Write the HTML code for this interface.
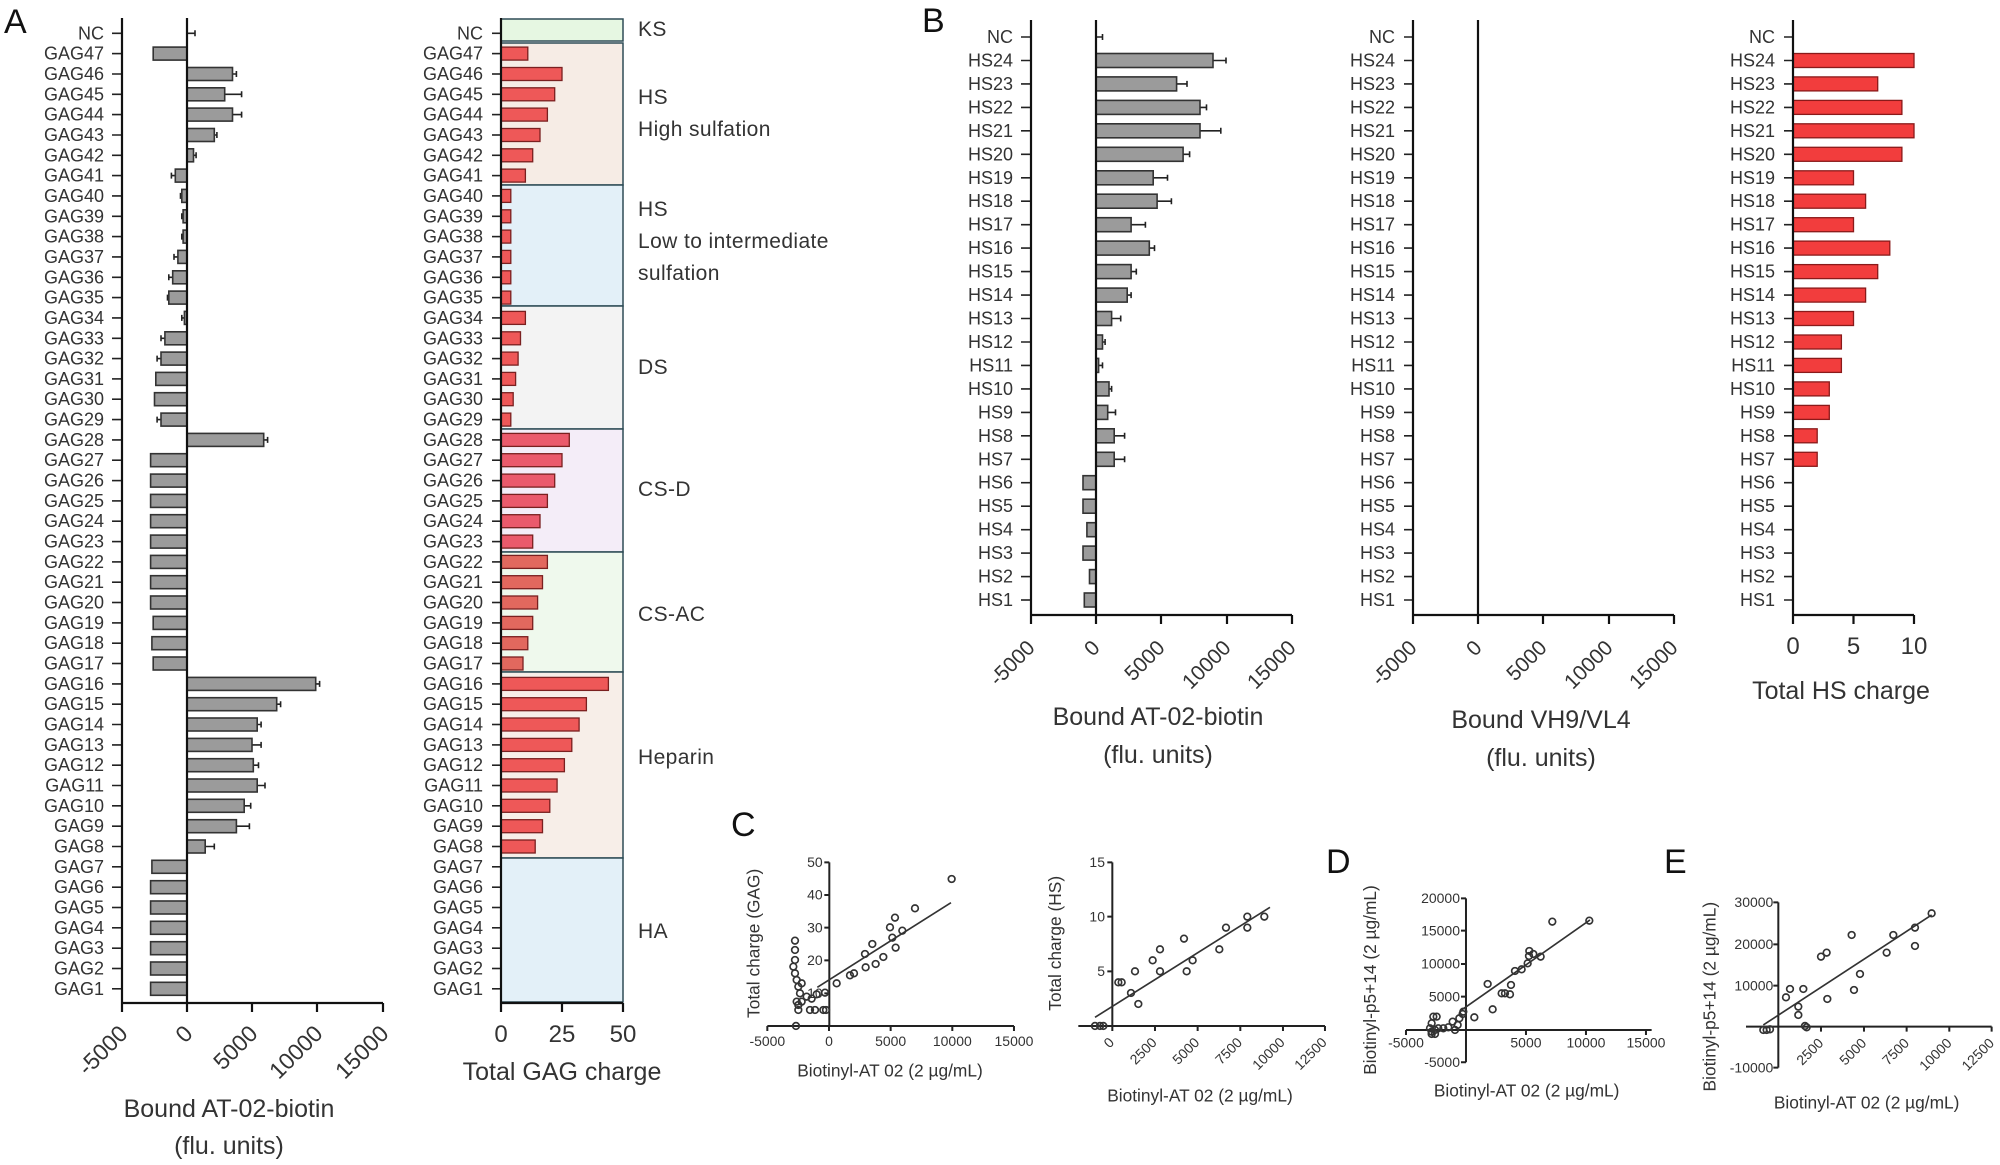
<!DOCTYPE html>
<html><head><meta charset="utf-8"><style>
body{margin:0;background:#fff}
svg{display:block;font-family:"Liberation Sans",Arial,sans-serif}
.rl{font-size:18px;fill:#333;text-anchor:end}
.gb{fill:#9b9b9b;stroke:#333;stroke-width:1.6}
.rb{fill:#ee5858;stroke:#7a2020;stroke-width:1.3}
.rb2{fill:#f23d3d;stroke:#8a1a1a;stroke-width:1.3}
.k{stroke:#222;stroke-width:1.6;fill:none}
.ax{stroke:#111;stroke-width:2.2;fill:none}
.tl{font-size:23px;fill:#333;text-anchor:end}
.tlb{font-size:21px;fill:#333;text-anchor:end}
.tt{font-size:25px;fill:#333;text-anchor:middle}
.cat{font-size:21px;fill:#333;letter-spacing:0.4px}
.let{font-size:34px;fill:#111}
.sc circle{fill:none;stroke:#333;stroke-width:5}
.sc .a{stroke:#222;stroke-width:6;fill:none}
.sc .l{stroke:#333;stroke-width:5;fill:none}
.sc text{font-size:42px;fill:#333}
.sc .ti{font-size:52px;fill:#333;text-anchor:middle}
</style></head><body>
<svg width="2000" height="1165" viewBox="0 0 2000 1165" xmlns="http://www.w3.org/2000/svg">
<text class="let" x="4" y="33">A</text>
<text class="let" x="922" y="32">B</text>
<text class="let" x="731" y="836">C</text>
<text class="let" x="1326" y="873">D</text>
<text class="let" x="1664" y="873">E</text>

<!-- A1 -->
<g>
<g transform="translate(187,33.3)"><text class="rl" x="-83" y="6">NC</text><path class="k" d="M-75 0H-65M0 0h8m0 -3v6"/></g>
<g transform="translate(187,53.6)"><text class="rl" x="-83" y="6">GAG47</text><path class="k" d="M-75 0H-65"/><rect class="gb" x="-33.8" y="-6.5" width="33.8" height="13"/></g>
<g transform="translate(187,74)"><text class="rl" x="-83" y="6">GAG46</text><path class="k" d="M-75 0H-65M45.5 0h3.9m0 -3v6"/><rect class="gb" x="0" y="-6.5" width="45.5" height="13"/></g>
<g transform="translate(187,94.3)"><text class="rl" x="-83" y="6">GAG45</text><path class="k" d="M-75 0H-65M37.7 0h16.9m0 -3v6"/><rect class="gb" x="0" y="-6.5" width="37.7" height="13"/></g>
<g transform="translate(187,114.6)"><text class="rl" x="-83" y="6">GAG44</text><path class="k" d="M-75 0H-65M45.5 0h9.1m0 -3v6"/><rect class="gb" x="0" y="-6.5" width="45.5" height="13"/></g>
<g transform="translate(187,135)"><text class="rl" x="-83" y="6">GAG43</text><path class="k" d="M-75 0H-65M27.3 0h2.6m0 -3v6"/><rect class="gb" x="0" y="-6.5" width="27.3" height="13"/></g>
<g transform="translate(187,155.3)"><text class="rl" x="-83" y="6">GAG42</text><path class="k" d="M-75 0H-65M6.5 0h2.6m0 -3v6"/><rect class="gb" x="0" y="-6.5" width="6.5" height="13"/></g>
<g transform="translate(187,175.6)"><text class="rl" x="-83" y="6">GAG41</text><path class="k" d="M-75 0H-65M-11.7 0h-3.9m0 -3v6"/><rect class="gb" x="-11.7" y="-6.5" width="11.7" height="13"/></g>
<g transform="translate(187,195.9)"><text class="rl" x="-83" y="6">GAG40</text><path class="k" d="M-75 0H-65M-5.2 0h-1.3m0 -3v6"/><rect class="gb" x="-5.2" y="-6.5" width="5.2" height="13"/></g>
<g transform="translate(187,216.3)"><text class="rl" x="-83" y="6">GAG39</text><path class="k" d="M-75 0H-65M-3.9 0h-1.3m0 -3v6"/><rect class="gb" x="-3.9" y="-6.5" width="3.9" height="13"/></g>
<g transform="translate(187,236.6)"><text class="rl" x="-83" y="6">GAG38</text><path class="k" d="M-75 0H-65M-3.9 0h-1.3m0 -3v6"/><rect class="gb" x="-3.9" y="-6.5" width="3.9" height="13"/></g>
<g transform="translate(187,256.9)"><text class="rl" x="-83" y="6">GAG37</text><path class="k" d="M-75 0H-65M-9.1 0h-3.9m0 -3v6"/><rect class="gb" x="-9.1" y="-6.5" width="9.1" height="13"/></g>
<g transform="translate(187,277.3)"><text class="rl" x="-83" y="6">GAG36</text><path class="k" d="M-75 0H-65M-14.3 0h-3.9m0 -3v6"/><rect class="gb" x="-14.3" y="-6.5" width="14.3" height="13"/></g>
<g transform="translate(187,297.6)"><text class="rl" x="-83" y="6">GAG35</text><path class="k" d="M-75 0H-65M-18.2 0h-1.3m0 -3v6"/><rect class="gb" x="-18.2" y="-6.5" width="18.2" height="13"/></g>
<g transform="translate(187,317.9)"><text class="rl" x="-83" y="6">GAG34</text><path class="k" d="M-75 0H-65M-2.6 0h-2.6m0 -3v6"/><rect class="gb" x="-2.6" y="-6.5" width="2.6" height="13"/></g>
<g transform="translate(187,338.3)"><text class="rl" x="-83" y="6">GAG33</text><path class="k" d="M-75 0H-65M-22.1 0h-3.9m0 -3v6"/><rect class="gb" x="-22.1" y="-6.5" width="22.1" height="13"/></g>
<g transform="translate(187,358.6)"><text class="rl" x="-83" y="6">GAG32</text><path class="k" d="M-75 0H-65M-26 0h-3.9m0 -3v6"/><rect class="gb" x="-26" y="-6.5" width="26" height="13"/></g>
<g transform="translate(187,378.9)"><text class="rl" x="-83" y="6">GAG31</text><path class="k" d="M-75 0H-65"/><rect class="gb" x="-31.2" y="-6.5" width="31.2" height="13"/></g>
<g transform="translate(187,399.2)"><text class="rl" x="-83" y="6">GAG30</text><path class="k" d="M-75 0H-65"/><rect class="gb" x="-32.5" y="-6.5" width="32.5" height="13"/></g>
<g transform="translate(187,419.6)"><text class="rl" x="-83" y="6">GAG29</text><path class="k" d="M-75 0H-65M-26 0h-3.9m0 -3v6"/><rect class="gb" x="-26" y="-6.5" width="26" height="13"/></g>
<g transform="translate(187,439.9)"><text class="rl" x="-83" y="6">GAG28</text><path class="k" d="M-75 0H-65M76.7 0h3.9m0 -3v6"/><rect class="gb" x="0" y="-6.5" width="76.7" height="13"/></g>
<g transform="translate(187,460.2)"><text class="rl" x="-83" y="6">GAG27</text><path class="k" d="M-75 0H-65"/><rect class="gb" x="-36.4" y="-6.5" width="36.4" height="13"/></g>
<g transform="translate(187,480.6)"><text class="rl" x="-83" y="6">GAG26</text><path class="k" d="M-75 0H-65"/><rect class="gb" x="-36.4" y="-6.5" width="36.4" height="13"/></g>
<g transform="translate(187,500.9)"><text class="rl" x="-83" y="6">GAG25</text><path class="k" d="M-75 0H-65"/><rect class="gb" x="-36.4" y="-6.5" width="36.4" height="13"/></g>
<g transform="translate(187,521.2)"><text class="rl" x="-83" y="6">GAG24</text><path class="k" d="M-75 0H-65"/><rect class="gb" x="-36.4" y="-6.5" width="36.4" height="13"/></g>
<g transform="translate(187,541.6)"><text class="rl" x="-83" y="6">GAG23</text><path class="k" d="M-75 0H-65"/><rect class="gb" x="-36.4" y="-6.5" width="36.4" height="13"/></g>
<g transform="translate(187,561.9)"><text class="rl" x="-83" y="6">GAG22</text><path class="k" d="M-75 0H-65"/><rect class="gb" x="-36.4" y="-6.5" width="36.4" height="13"/></g>
<g transform="translate(187,582.2)"><text class="rl" x="-83" y="6">GAG21</text><path class="k" d="M-75 0H-65"/><rect class="gb" x="-36.4" y="-6.5" width="36.4" height="13"/></g>
<g transform="translate(187,602.5)"><text class="rl" x="-83" y="6">GAG20</text><path class="k" d="M-75 0H-65"/><rect class="gb" x="-36.4" y="-6.5" width="36.4" height="13"/></g>
<g transform="translate(187,622.9)"><text class="rl" x="-83" y="6">GAG19</text><path class="k" d="M-75 0H-65"/><rect class="gb" x="-33.8" y="-6.5" width="33.8" height="13"/></g>
<g transform="translate(187,643.2)"><text class="rl" x="-83" y="6">GAG18</text><path class="k" d="M-75 0H-65"/><rect class="gb" x="-35.1" y="-6.5" width="35.1" height="13"/></g>
<g transform="translate(187,663.5)"><text class="rl" x="-83" y="6">GAG17</text><path class="k" d="M-75 0H-65"/><rect class="gb" x="-33.8" y="-6.5" width="33.8" height="13"/></g>
<g transform="translate(187,683.9)"><text class="rl" x="-83" y="6">GAG16</text><path class="k" d="M-75 0H-65M128.7 0h3.9m0 -3v6"/><rect class="gb" x="0" y="-6.5" width="128.7" height="13"/></g>
<g transform="translate(187,704.2)"><text class="rl" x="-83" y="6">GAG15</text><path class="k" d="M-75 0H-65M89.7 0h3.9m0 -3v6"/><rect class="gb" x="0" y="-6.5" width="89.7" height="13"/></g>
<g transform="translate(187,724.5)"><text class="rl" x="-83" y="6">GAG14</text><path class="k" d="M-75 0H-65M70.2 0h3.9m0 -3v6"/><rect class="gb" x="0" y="-6.5" width="70.2" height="13"/></g>
<g transform="translate(187,744.9)"><text class="rl" x="-83" y="6">GAG13</text><path class="k" d="M-75 0H-65M65 0h9.1m0 -3v6"/><rect class="gb" x="0" y="-6.5" width="65" height="13"/></g>
<g transform="translate(187,765.2)"><text class="rl" x="-83" y="6">GAG12</text><path class="k" d="M-75 0H-65M66.3 0h5.2m0 -3v6"/><rect class="gb" x="0" y="-6.5" width="66.3" height="13"/></g>
<g transform="translate(187,785.5)"><text class="rl" x="-83" y="6">GAG11</text><path class="k" d="M-75 0H-65M70.2 0h7.8m0 -3v6"/><rect class="gb" x="0" y="-6.5" width="70.2" height="13"/></g>
<g transform="translate(187,805.8)"><text class="rl" x="-83" y="6">GAG10</text><path class="k" d="M-75 0H-65M57.2 0h6.5m0 -3v6"/><rect class="gb" x="0" y="-6.5" width="57.2" height="13"/></g>
<g transform="translate(187,826.2)"><text class="rl" x="-83" y="6">GAG9</text><path class="k" d="M-75 0H-65M49.4 0h13m0 -3v6"/><rect class="gb" x="0" y="-6.5" width="49.4" height="13"/></g>
<g transform="translate(187,846.5)"><text class="rl" x="-83" y="6">GAG8</text><path class="k" d="M-75 0H-65M18.2 0h9.1m0 -3v6"/><rect class="gb" x="0" y="-6.5" width="18.2" height="13"/></g>
<g transform="translate(187,866.8)"><text class="rl" x="-83" y="6">GAG7</text><path class="k" d="M-75 0H-65"/><rect class="gb" x="-35.1" y="-6.5" width="35.1" height="13"/></g>
<g transform="translate(187,887.2)"><text class="rl" x="-83" y="6">GAG6</text><path class="k" d="M-75 0H-65"/><rect class="gb" x="-36.4" y="-6.5" width="36.4" height="13"/></g>
<g transform="translate(187,907.5)"><text class="rl" x="-83" y="6">GAG5</text><path class="k" d="M-75 0H-65"/><rect class="gb" x="-36.4" y="-6.5" width="36.4" height="13"/></g>
<g transform="translate(187,927.8)"><text class="rl" x="-83" y="6">GAG4</text><path class="k" d="M-75 0H-65"/><rect class="gb" x="-36.4" y="-6.5" width="36.4" height="13"/></g>
<g transform="translate(187,948.2)"><text class="rl" x="-83" y="6">GAG3</text><path class="k" d="M-75 0H-65"/><rect class="gb" x="-36.4" y="-6.5" width="36.4" height="13"/></g>
<g transform="translate(187,968.5)"><text class="rl" x="-83" y="6">GAG2</text><path class="k" d="M-75 0H-65"/><rect class="gb" x="-36.4" y="-6.5" width="36.4" height="13"/></g>
<g transform="translate(187,988.8)"><text class="rl" x="-83" y="6">GAG1</text><path class="k" d="M-75 0H-65"/><rect class="gb" x="-36.4" y="-6.5" width="36.4" height="13"/></g>
<path class="ax" d="M122 18V1003H383M187 18V1003M122 1003v9M187 1003v9M252 1003v9M317 1003v9M383 1003v9"/>
<text class="tl" transform="translate(129,1035) rotate(-45)">-5000</text>
<text class="tl" transform="translate(194,1035) rotate(-45)">0</text>
<text class="tl" transform="translate(259,1035) rotate(-45)">5000</text>
<text class="tl" transform="translate(324,1035) rotate(-45)">10000</text>
<text class="tl" transform="translate(390,1035) rotate(-45)">15000</text>
<text class="tt" x="229" y="1117">Bound AT-02-biotin</text>
<text class="tt" x="229" y="1154">(flu. units)</text>
</g>

<!-- A2 -->
<g>
<rect x="501" y="19" width="122" height="22" fill="#e6f7e2" stroke="#2e4c56" stroke-width="1.5"/>
<rect x="501" y="43" width="122" height="142" fill="#f6ece5" stroke="#2e4c56" stroke-width="1.5"/>
<rect x="501" y="185" width="122" height="121" fill="#e3f0f8" stroke="#2e4c56" stroke-width="1.5"/>
<rect x="501" y="306" width="122" height="123" fill="#f3f3f3" stroke="#2e4c56" stroke-width="1.5"/>
<rect x="501" y="429" width="122" height="123" fill="#f4edf8" stroke="#2e4c56" stroke-width="1.5"/>
<rect x="501" y="552" width="122" height="120" fill="#eff9ed" stroke="#2e4c56" stroke-width="1.5"/>
<rect x="501" y="672" width="122" height="186" fill="#f7eee8" stroke="#2e4c56" stroke-width="1.5"/>
<rect x="501" y="858" width="122" height="144" fill="#e3f0f8" stroke="#2e4c56" stroke-width="1.5"/>
<text class="cat" x="638" y="36">KS</text>
<text class="cat" x="638" y="104">HS</text>
<text class="cat" x="638" y="136">High sulfation</text>
<text class="cat" x="638" y="216">HS</text>
<text class="cat" x="638" y="248">Low to intermediate</text>
<text class="cat" x="638" y="280">sulfation</text>
<text class="cat" x="638" y="374">DS</text>
<text class="cat" x="638" y="496">CS-D</text>
<text class="cat" x="638" y="621">CS-AC</text>
<text class="cat" x="638" y="764">Heparin</text>
<text class="cat" x="638" y="938">HA</text>
<g transform="translate(501,33.3)"><text class="rl" x="-18" y="6">NC</text><path class="k" d="M-9 0H0"/></g>
<g transform="translate(501,53.6)"><text class="rl" x="-18" y="6">GAG47</text><path class="k" d="M-9 0H0"/><rect class="rb" x="0" y="-6.5" width="26.8" height="13"/></g>
<g transform="translate(501,74)"><text class="rl" x="-18" y="6">GAG46</text><path class="k" d="M-9 0H0"/><rect class="rb" x="0" y="-6.5" width="61" height="13"/></g>
<g transform="translate(501,94.3)"><text class="rl" x="-18" y="6">GAG45</text><path class="k" d="M-9 0H0"/><rect class="rb" x="0" y="-6.5" width="53.7" height="13"/></g>
<g transform="translate(501,114.6)"><text class="rl" x="-18" y="6">GAG44</text><path class="k" d="M-9 0H0"/><rect class="rb" x="0" y="-6.5" width="46.4" height="13"/></g>
<g transform="translate(501,135)"><text class="rl" x="-18" y="6">GAG43</text><path class="k" d="M-9 0H0"/><rect class="rb" x="0" y="-6.5" width="39" height="13"/></g>
<g transform="translate(501,155.3)"><text class="rl" x="-18" y="6">GAG42</text><path class="k" d="M-9 0H0"/><rect class="rb" x="0" y="-6.5" width="31.7" height="13"/></g>
<g transform="translate(501,175.6)"><text class="rl" x="-18" y="6">GAG41</text><path class="k" d="M-9 0H0"/><rect class="rb" x="0" y="-6.5" width="24.4" height="13"/></g>
<g transform="translate(501,195.9)"><text class="rl" x="-18" y="6">GAG40</text><path class="k" d="M-9 0H0"/><rect class="rb" x="0" y="-6.5" width="9.8" height="13"/></g>
<g transform="translate(501,216.3)"><text class="rl" x="-18" y="6">GAG39</text><path class="k" d="M-9 0H0"/><rect class="rb" x="0" y="-6.5" width="9.8" height="13"/></g>
<g transform="translate(501,236.6)"><text class="rl" x="-18" y="6">GAG38</text><path class="k" d="M-9 0H0"/><rect class="rb" x="0" y="-6.5" width="9.8" height="13"/></g>
<g transform="translate(501,256.9)"><text class="rl" x="-18" y="6">GAG37</text><path class="k" d="M-9 0H0"/><rect class="rb" x="0" y="-6.5" width="9.8" height="13"/></g>
<g transform="translate(501,277.3)"><text class="rl" x="-18" y="6">GAG36</text><path class="k" d="M-9 0H0"/><rect class="rb" x="0" y="-6.5" width="9.8" height="13"/></g>
<g transform="translate(501,297.6)"><text class="rl" x="-18" y="6">GAG35</text><path class="k" d="M-9 0H0"/><rect class="rb" x="0" y="-6.5" width="9.8" height="13"/></g>
<g transform="translate(501,317.9)"><text class="rl" x="-18" y="6">GAG34</text><path class="k" d="M-9 0H0"/><rect class="rb" x="0" y="-6.5" width="24.4" height="13"/></g>
<g transform="translate(501,338.3)"><text class="rl" x="-18" y="6">GAG33</text><path class="k" d="M-9 0H0"/><rect class="rb" x="0" y="-6.5" width="19.5" height="13"/></g>
<g transform="translate(501,358.6)"><text class="rl" x="-18" y="6">GAG32</text><path class="k" d="M-9 0H0"/><rect class="rb" x="0" y="-6.5" width="17.1" height="13"/></g>
<g transform="translate(501,378.9)"><text class="rl" x="-18" y="6">GAG31</text><path class="k" d="M-9 0H0"/><rect class="rb" x="0" y="-6.5" width="14.6" height="13"/></g>
<g transform="translate(501,399.2)"><text class="rl" x="-18" y="6">GAG30</text><path class="k" d="M-9 0H0"/><rect class="rb" x="0" y="-6.5" width="12.2" height="13"/></g>
<g transform="translate(501,419.6)"><text class="rl" x="-18" y="6">GAG29</text><path class="k" d="M-9 0H0"/><rect class="rb" x="0" y="-6.5" width="9.8" height="13"/></g>
<g transform="translate(501,439.9)"><text class="rl" x="-18" y="6">GAG28</text><path class="k" d="M-9 0H0"/><rect class="rb" x="0" y="-6.5" width="68.3" height="13" style="fill:#ea5a6c"/></g>
<g transform="translate(501,460.2)"><text class="rl" x="-18" y="6">GAG27</text><path class="k" d="M-9 0H0"/><rect class="rb" x="0" y="-6.5" width="61" height="13" style="fill:#ea5a6c"/></g>
<g transform="translate(501,480.6)"><text class="rl" x="-18" y="6">GAG26</text><path class="k" d="M-9 0H0"/><rect class="rb" x="0" y="-6.5" width="53.7" height="13" style="fill:#ea5a6c"/></g>
<g transform="translate(501,500.9)"><text class="rl" x="-18" y="6">GAG25</text><path class="k" d="M-9 0H0"/><rect class="rb" x="0" y="-6.5" width="46.4" height="13" style="fill:#ea5a6c"/></g>
<g transform="translate(501,521.2)"><text class="rl" x="-18" y="6">GAG24</text><path class="k" d="M-9 0H0"/><rect class="rb" x="0" y="-6.5" width="39" height="13" style="fill:#ea5a6c"/></g>
<g transform="translate(501,541.6)"><text class="rl" x="-18" y="6">GAG23</text><path class="k" d="M-9 0H0"/><rect class="rb" x="0" y="-6.5" width="31.7" height="13" style="fill:#ea5a6c"/></g>
<g transform="translate(501,561.9)"><text class="rl" x="-18" y="6">GAG22</text><path class="k" d="M-9 0H0"/><rect class="rb" x="0" y="-6.5" width="46.4" height="13" style="fill:#e2685e"/></g>
<g transform="translate(501,582.2)"><text class="rl" x="-18" y="6">GAG21</text><path class="k" d="M-9 0H0"/><rect class="rb" x="0" y="-6.5" width="41.5" height="13" style="fill:#e2685e"/></g>
<g transform="translate(501,602.5)"><text class="rl" x="-18" y="6">GAG20</text><path class="k" d="M-9 0H0"/><rect class="rb" x="0" y="-6.5" width="36.6" height="13" style="fill:#e2685e"/></g>
<g transform="translate(501,622.9)"><text class="rl" x="-18" y="6">GAG19</text><path class="k" d="M-9 0H0"/><rect class="rb" x="0" y="-6.5" width="31.7" height="13" style="fill:#e2685e"/></g>
<g transform="translate(501,643.2)"><text class="rl" x="-18" y="6">GAG18</text><path class="k" d="M-9 0H0"/><rect class="rb" x="0" y="-6.5" width="26.8" height="13" style="fill:#e2685e"/></g>
<g transform="translate(501,663.5)"><text class="rl" x="-18" y="6">GAG17</text><path class="k" d="M-9 0H0"/><rect class="rb" x="0" y="-6.5" width="22" height="13" style="fill:#e2685e"/></g>
<g transform="translate(501,683.9)"><text class="rl" x="-18" y="6">GAG16</text><path class="k" d="M-9 0H0"/><rect class="rb" x="0" y="-6.5" width="107.4" height="13"/></g>
<g transform="translate(501,704.2)"><text class="rl" x="-18" y="6">GAG15</text><path class="k" d="M-9 0H0"/><rect class="rb" x="0" y="-6.5" width="85.4" height="13"/></g>
<g transform="translate(501,724.5)"><text class="rl" x="-18" y="6">GAG14</text><path class="k" d="M-9 0H0"/><rect class="rb" x="0" y="-6.5" width="78.1" height="13"/></g>
<g transform="translate(501,744.9)"><text class="rl" x="-18" y="6">GAG13</text><path class="k" d="M-9 0H0"/><rect class="rb" x="0" y="-6.5" width="70.8" height="13"/></g>
<g transform="translate(501,765.2)"><text class="rl" x="-18" y="6">GAG12</text><path class="k" d="M-9 0H0"/><rect class="rb" x="0" y="-6.5" width="63.4" height="13"/></g>
<g transform="translate(501,785.5)"><text class="rl" x="-18" y="6">GAG11</text><path class="k" d="M-9 0H0"/><rect class="rb" x="0" y="-6.5" width="56.1" height="13"/></g>
<g transform="translate(501,805.8)"><text class="rl" x="-18" y="6">GAG10</text><path class="k" d="M-9 0H0"/><rect class="rb" x="0" y="-6.5" width="48.8" height="13"/></g>
<g transform="translate(501,826.2)"><text class="rl" x="-18" y="6">GAG9</text><path class="k" d="M-9 0H0"/><rect class="rb" x="0" y="-6.5" width="41.5" height="13"/></g>
<g transform="translate(501,846.5)"><text class="rl" x="-18" y="6">GAG8</text><path class="k" d="M-9 0H0"/><rect class="rb" x="0" y="-6.5" width="34.2" height="13"/></g>
<g transform="translate(501,866.8)"><text class="rl" x="-18" y="6">GAG7</text><path class="k" d="M-9 0H0"/></g>
<g transform="translate(501,887.2)"><text class="rl" x="-18" y="6">GAG6</text><path class="k" d="M-9 0H0"/></g>
<g transform="translate(501,907.5)"><text class="rl" x="-18" y="6">GAG5</text><path class="k" d="M-9 0H0"/></g>
<g transform="translate(501,927.8)"><text class="rl" x="-18" y="6">GAG4</text><path class="k" d="M-9 0H0"/></g>
<g transform="translate(501,948.2)"><text class="rl" x="-18" y="6">GAG3</text><path class="k" d="M-9 0H0"/></g>
<g transform="translate(501,968.5)"><text class="rl" x="-18" y="6">GAG2</text><path class="k" d="M-9 0H0"/></g>
<g transform="translate(501,988.8)"><text class="rl" x="-18" y="6">GAG1</text><path class="k" d="M-9 0H0"/></g>
<path class="ax" d="M501 18V1003H623M501 1003v9M562 1003v9M623 1003v9"/>
<text class="tt" x="501" y="1042" style="font-size:24px">0</text>
<text class="tt" x="562" y="1042" style="font-size:24px">25</text>
<text class="tt" x="623" y="1042" style="font-size:24px">50</text>
<text class="tt" x="562" y="1080">Total GAG charge</text>
</g>

<!-- B1 -->
<g>
<g transform="translate(1096,37)"><text class="rl" x="-83" y="6">NC</text><path class="k" d="M-75 0H-65M0 0h6.5m0 -3v6"/></g>
<g transform="translate(1096,60.5)"><text class="rl" x="-83" y="6">HS24</text><path class="k" d="M-75 0H-65M117 0h13m0 -3v6"/><rect class="gb" x="0" y="-7" width="117" height="14"/></g>
<g transform="translate(1096,83.9)"><text class="rl" x="-83" y="6">HS23</text><path class="k" d="M-75 0H-65M80.6 0h10.4m0 -3v6"/><rect class="gb" x="0" y="-7" width="80.6" height="14"/></g>
<g transform="translate(1096,107.4)"><text class="rl" x="-83" y="6">HS22</text><path class="k" d="M-75 0H-65M104 0h6.5m0 -3v6"/><rect class="gb" x="0" y="-7" width="104" height="14"/></g>
<g transform="translate(1096,130.8)"><text class="rl" x="-83" y="6">HS21</text><path class="k" d="M-75 0H-65M104 0h20.8m0 -3v6"/><rect class="gb" x="0" y="-7" width="104" height="14"/></g>
<g transform="translate(1096,154.3)"><text class="rl" x="-83" y="6">HS20</text><path class="k" d="M-75 0H-65M87.1 0h6.5m0 -3v6"/><rect class="gb" x="0" y="-7" width="87.1" height="14"/></g>
<g transform="translate(1096,177.8)"><text class="rl" x="-83" y="6">HS19</text><path class="k" d="M-75 0H-65M57.2 0h14.3m0 -3v6"/><rect class="gb" x="0" y="-7" width="57.2" height="14"/></g>
<g transform="translate(1096,201.2)"><text class="rl" x="-83" y="6">HS18</text><path class="k" d="M-75 0H-65M61.1 0h14.3m0 -3v6"/><rect class="gb" x="0" y="-7" width="61.1" height="14"/></g>
<g transform="translate(1096,224.7)"><text class="rl" x="-83" y="6">HS17</text><path class="k" d="M-75 0H-65M35.1 0h14.3m0 -3v6"/><rect class="gb" x="0" y="-7" width="35.1" height="14"/></g>
<g transform="translate(1096,248.1)"><text class="rl" x="-83" y="6">HS16</text><path class="k" d="M-75 0H-65M53.3 0h5.2m0 -3v6"/><rect class="gb" x="0" y="-7" width="53.3" height="14"/></g>
<g transform="translate(1096,271.6)"><text class="rl" x="-83" y="6">HS15</text><path class="k" d="M-75 0H-65M35.1 0h5.2m0 -3v6"/><rect class="gb" x="0" y="-7" width="35.1" height="14"/></g>
<g transform="translate(1096,295.1)"><text class="rl" x="-83" y="6">HS14</text><path class="k" d="M-75 0H-65M31.2 0h3.9m0 -3v6"/><rect class="gb" x="0" y="-7" width="31.2" height="14"/></g>
<g transform="translate(1096,318.5)"><text class="rl" x="-83" y="6">HS13</text><path class="k" d="M-75 0H-65M15.6 0h9.1m0 -3v6"/><rect class="gb" x="0" y="-7" width="15.6" height="14"/></g>
<g transform="translate(1096,342)"><text class="rl" x="-83" y="6">HS12</text><path class="k" d="M-75 0H-65M6.5 0h2.6m0 -3v6"/><rect class="gb" x="0" y="-7" width="6.5" height="14"/></g>
<g transform="translate(1096,365.4)"><text class="rl" x="-83" y="6">HS11</text><path class="k" d="M-75 0H-65M2.6 0h3.9m0 -3v6"/><rect class="gb" x="0" y="-7" width="2.6" height="14"/></g>
<g transform="translate(1096,388.9)"><text class="rl" x="-83" y="6">HS10</text><path class="k" d="M-75 0H-65M13 0h2.6m0 -3v6"/><rect class="gb" x="0" y="-7" width="13" height="14"/></g>
<g transform="translate(1096,412.4)"><text class="rl" x="-83" y="6">HS9</text><path class="k" d="M-75 0H-65M11.7 0h7.8m0 -3v6"/><rect class="gb" x="0" y="-7" width="11.7" height="14"/></g>
<g transform="translate(1096,435.8)"><text class="rl" x="-83" y="6">HS8</text><path class="k" d="M-75 0H-65M18.2 0h10.4m0 -3v6"/><rect class="gb" x="0" y="-7" width="18.2" height="14"/></g>
<g transform="translate(1096,459.3)"><text class="rl" x="-83" y="6">HS7</text><path class="k" d="M-75 0H-65M18.2 0h10.4m0 -3v6"/><rect class="gb" x="0" y="-7" width="18.2" height="14"/></g>
<g transform="translate(1096,482.7)"><text class="rl" x="-83" y="6">HS6</text><path class="k" d="M-75 0H-65"/><rect class="gb" x="-13" y="-7" width="13" height="14"/></g>
<g transform="translate(1096,506.2)"><text class="rl" x="-83" y="6">HS5</text><path class="k" d="M-75 0H-65"/><rect class="gb" x="-13" y="-7" width="13" height="14"/></g>
<g transform="translate(1096,529.7)"><text class="rl" x="-83" y="6">HS4</text><path class="k" d="M-75 0H-65"/><rect class="gb" x="-9.1" y="-7" width="9.1" height="14"/></g>
<g transform="translate(1096,553.1)"><text class="rl" x="-83" y="6">HS3</text><path class="k" d="M-75 0H-65"/><rect class="gb" x="-13" y="-7" width="13" height="14"/></g>
<g transform="translate(1096,576.6)"><text class="rl" x="-83" y="6">HS2</text><path class="k" d="M-75 0H-65"/><rect class="gb" x="-6.5" y="-7" width="6.5" height="14"/></g>
<g transform="translate(1096,600)"><text class="rl" x="-83" y="6">HS1</text><path class="k" d="M-75 0H-65"/><rect class="gb" x="-11.7" y="-7" width="11.7" height="14"/></g>
<path class="ax" d="M1031 20V615H1292M1096 20V615M1031 615v9M1096 615v9M1161 615v9M1227 615v9M1292 615v9"/>
<text class="tlb" transform="translate(1036,649) rotate(-45)">-5000</text>
<text class="tlb" transform="translate(1101,649) rotate(-45)">0</text>
<text class="tlb" transform="translate(1166,649) rotate(-45)">5000</text>
<text class="tlb" transform="translate(1232,649) rotate(-45)">10000</text>
<text class="tlb" transform="translate(1297,649) rotate(-45)">15000</text>
<text class="tt" x="1158" y="725">Bound AT-02-biotin</text>
<text class="tt" x="1158" y="763">(flu. units)</text>
</g>

<!-- B2 -->
<g>
<g transform="translate(1413,0)">
<text class="rl" x="-18" y="43">NC</text><text class="rl" x="-18" y="66.5">HS24</text><text class="rl" x="-18" y="89.9">HS23</text><text class="rl" x="-18" y="113.4">HS22</text><text class="rl" x="-18" y="136.8">HS21</text><text class="rl" x="-18" y="160.3">HS20</text><text class="rl" x="-18" y="183.8">HS19</text><text class="rl" x="-18" y="207.2">HS18</text><text class="rl" x="-18" y="230.7">HS17</text><text class="rl" x="-18" y="254.1">HS16</text><text class="rl" x="-18" y="277.6">HS15</text><text class="rl" x="-18" y="301.1">HS14</text><text class="rl" x="-18" y="324.5">HS13</text><text class="rl" x="-18" y="348">HS12</text><text class="rl" x="-18" y="371.4">HS11</text><text class="rl" x="-18" y="394.9">HS10</text><text class="rl" x="-18" y="418.4">HS9</text><text class="rl" x="-18" y="441.8">HS8</text><text class="rl" x="-18" y="465.3">HS7</text><text class="rl" x="-18" y="488.7">HS6</text><text class="rl" x="-18" y="512.2">HS5</text><text class="rl" x="-18" y="535.7">HS4</text><text class="rl" x="-18" y="559.1">HS3</text><text class="rl" x="-18" y="582.6">HS2</text><text class="rl" x="-18" y="606">HS1</text>
<path class="k" d="M-9 37H0M-9 60.5H0M-9 83.9H0M-9 107.4H0M-9 130.8H0M-9 154.3H0M-9 177.8H0M-9 201.2H0M-9 224.7H0M-9 248.1H0M-9 271.6H0M-9 295.1H0M-9 318.5H0M-9 342H0M-9 365.4H0M-9 388.9H0M-9 412.4H0M-9 435.8H0M-9 459.3H0M-9 482.7H0M-9 506.2H0M-9 529.7H0M-9 553.1H0M-9 576.6H0M-9 600H0"/>
</g>
<path class="ax" d="M1413 20V615H1674M1478 20V615M1413 615v9M1478 615v9M1543 615v9M1609 615v9M1674 615v9"/>
<text class="tlb" transform="translate(1418,649) rotate(-45)">-5000</text>
<text class="tlb" transform="translate(1483,649) rotate(-45)">0</text>
<text class="tlb" transform="translate(1548,649) rotate(-45)">5000</text>
<text class="tlb" transform="translate(1614,649) rotate(-45)">10000</text>
<text class="tlb" transform="translate(1679,649) rotate(-45)">15000</text>
<text class="tt" x="1541" y="728">Bound VH9/VL4</text>
<text class="tt" x="1541" y="766">(flu. units)</text>
</g>

<!-- B3 -->
<g>
<g transform="translate(1793,0)">
<text class="rl" x="-18" y="43">NC</text><text class="rl" x="-18" y="66.5">HS24</text><text class="rl" x="-18" y="89.9">HS23</text><text class="rl" x="-18" y="113.4">HS22</text><text class="rl" x="-18" y="136.8">HS21</text><text class="rl" x="-18" y="160.3">HS20</text><text class="rl" x="-18" y="183.8">HS19</text><text class="rl" x="-18" y="207.2">HS18</text><text class="rl" x="-18" y="230.7">HS17</text><text class="rl" x="-18" y="254.1">HS16</text><text class="rl" x="-18" y="277.6">HS15</text><text class="rl" x="-18" y="301.1">HS14</text><text class="rl" x="-18" y="324.5">HS13</text><text class="rl" x="-18" y="348">HS12</text><text class="rl" x="-18" y="371.4">HS11</text><text class="rl" x="-18" y="394.9">HS10</text><text class="rl" x="-18" y="418.4">HS9</text><text class="rl" x="-18" y="441.8">HS8</text><text class="rl" x="-18" y="465.3">HS7</text><text class="rl" x="-18" y="488.7">HS6</text><text class="rl" x="-18" y="512.2">HS5</text><text class="rl" x="-18" y="535.7">HS4</text><text class="rl" x="-18" y="559.1">HS3</text><text class="rl" x="-18" y="582.6">HS2</text><text class="rl" x="-18" y="606">HS1</text>
<path class="k" d="M-9 37H0M-9 60.5H0M-9 83.9H0M-9 107.4H0M-9 130.8H0M-9 154.3H0M-9 177.8H0M-9 201.2H0M-9 224.7H0M-9 248.1H0M-9 271.6H0M-9 295.1H0M-9 318.5H0M-9 342H0M-9 365.4H0M-9 388.9H0M-9 412.4H0M-9 435.8H0M-9 459.3H0M-9 482.7H0M-9 506.2H0M-9 529.7H0M-9 553.1H0M-9 576.6H0M-9 600H0"/>
<rect class="rb2" x="0" y="53.5" width="121" height="14"/>
<rect class="rb2" x="0" y="76.9" width="84.7" height="14"/>
<rect class="rb2" x="0" y="100.4" width="108.9" height="14"/>
<rect class="rb2" x="0" y="123.8" width="121" height="14"/>
<rect class="rb2" x="0" y="147.3" width="108.9" height="14"/>
<rect class="rb2" x="0" y="170.8" width="60.5" height="14"/>
<rect class="rb2" x="0" y="194.2" width="72.6" height="14"/>
<rect class="rb2" x="0" y="217.7" width="60.5" height="14"/>
<rect class="rb2" x="0" y="241.1" width="96.8" height="14"/>
<rect class="rb2" x="0" y="264.6" width="84.7" height="14"/>
<rect class="rb2" x="0" y="288.1" width="72.6" height="14"/>
<rect class="rb2" x="0" y="311.5" width="60.5" height="14"/>
<rect class="rb2" x="0" y="335" width="48.4" height="14"/>
<rect class="rb2" x="0" y="358.4" width="48.4" height="14"/>
<rect class="rb2" x="0" y="381.9" width="36.3" height="14"/>
<rect class="rb2" x="0" y="405.4" width="36.3" height="14"/>
<rect class="rb2" x="0" y="428.8" width="24.2" height="14"/>
<rect class="rb2" x="0" y="452.3" width="24.2" height="14"/>
</g>
<path class="ax" d="M1793 20V615H1914M1793 615v9M1853.5 615v9M1914 615v9"/>
<text class="tt" x="1793" y="654" style="font-size:24px">0</text>
<text class="tt" x="1853.5" y="654" style="font-size:24px">5</text>
<text class="tt" x="1914" y="654" style="font-size:24px">10</text>
<text class="tt" x="1841" y="699">Total HS charge</text>
</g>

<!-- C1 -->
<g class="sc" transform="translate(730,810) scale(0.3333)">
<path class="a" d="M298 157V648M112 648H852M283 157H298M283 255H298M283 353H298M283 451H298M283 550H298M112 648v15M297 648v15M482 648v15M667 648v15M852 648v15"/>
<text x="278" y="171" text-anchor="end">50</text><text x="278" y="269" text-anchor="end">40</text><text x="278" y="367" text-anchor="end">30</text><text x="278" y="465" text-anchor="end">20</text><text x="278" y="564" text-anchor="end">10</text>
<text x="112" y="708" text-anchor="middle">-5000</text><text x="297" y="708" text-anchor="middle">0</text><text x="482" y="708" text-anchor="middle">5000</text><text x="667" y="708" text-anchor="middle">10000</text><text x="852" y="708" text-anchor="middle">15000</text>
<text class="ti" x="480" y="800">Biotinyl-AT 02 (2 µg/mL)</text>
<text class="ti" transform="translate(88,400) rotate(-90)">Total charge (GAG)</text>
<path class="l" d="M262 532L663 278"/>
<circle cx="665" cy="207" r="10"/><circle cx="555" cy="295" r="10"/><circle cx="495" cy="323" r="10"/><circle cx="480" cy="352" r="10"/><circle cx="517" cy="362" r="10"/><circle cx="487" cy="383" r="10"/><circle cx="497" cy="413" r="10"/><circle cx="427" cy="402" r="10"/><circle cx="405" cy="432" r="10"/><circle cx="437" cy="462" r="10"/><circle cx="460" cy="441" r="10"/><circle cx="407" cy="472" r="10"/><circle cx="372" cy="490" r="10"/><circle cx="360" cy="496" r="10"/><circle cx="320" cy="520" r="10"/><circle cx="285" cy="548" r="10"/><circle cx="260" cy="553" r="10"/><circle cx="245" cy="566" r="10"/><circle cx="215" cy="575" r="10"/><circle cx="205" cy="585" r="10"/><circle cx="205" cy="600" r="10"/><circle cx="240" cy="600" r="10"/><circle cx="255" cy="600" r="10"/><circle cx="280" cy="600" r="10"/><circle cx="288" cy="600" r="10"/><circle cx="195" cy="392" r="10"/><circle cx="195" cy="420" r="10"/><circle cx="195" cy="450" r="10"/><circle cx="190" cy="470" r="10"/><circle cx="195" cy="490" r="10"/><circle cx="200" cy="510" r="10"/><circle cx="205" cy="530" r="10"/><circle cx="210" cy="550" r="10"/><circle cx="200" cy="575" r="10"/><circle cx="198" cy="648" r="10"/><circle cx="215" cy="520" r="10"/><circle cx="230" cy="560" r="10"/>
</g>

<!-- C2 -->
<g class="sc" transform="translate(1050,810) scale(0.3333)">
<path class="a" d="M187 157V648M85 648H825M172 157H187M172 320H187M172 484H187M187 648v15M315 648v15M443 648v15M571 648v15M699 648v15M825 648v15"/>
<text x="165" y="171" text-anchor="end">15</text><text x="165" y="334" text-anchor="end">10</text><text x="165" y="498" text-anchor="end">5</text>
<text text-anchor="end" transform="translate(195,700) rotate(-45)">0</text>
<text text-anchor="end" transform="translate(323,700) rotate(-45)">2500</text>
<text text-anchor="end" transform="translate(451,700) rotate(-45)">5000</text>
<text text-anchor="end" transform="translate(579,700) rotate(-45)">7500</text>
<text text-anchor="end" transform="translate(707,700) rotate(-45)">10000</text>
<text text-anchor="end" transform="translate(833,700) rotate(-45)">12500</text>
<text class="ti" x="450" y="875">Biotinyl-AT 02 (2 µg/mL)</text>
<text class="ti" transform="translate(33,400) rotate(-90)">Total charge (HS)</text>
<path class="l" d="M135 622L660 292"/>
<circle cx="135" cy="648" r="10"/><circle cx="150" cy="648" r="10"/><circle cx="160" cy="648" r="10"/><circle cx="205" cy="517" r="10"/><circle cx="215" cy="517" r="10"/><circle cx="243" cy="549" r="10"/><circle cx="255" cy="484" r="10"/><circle cx="265" cy="582" r="10"/><circle cx="308" cy="451" r="10"/><circle cx="330" cy="418" r="10"/><circle cx="330" cy="484" r="10"/><circle cx="402" cy="386" r="10"/><circle cx="410" cy="484" r="10"/><circle cx="428" cy="451" r="10"/><circle cx="508" cy="418" r="10"/><circle cx="528" cy="353" r="10"/><circle cx="592" cy="320" r="10"/><circle cx="592" cy="353" r="10"/><circle cx="643" cy="320" r="10"/>
</g>

<!-- D -->
<g class="sc" transform="translate(1320,810) scale(0.3333)">
<path class="a" d="M438 265V757M258 660H995M423 265H438M423 362H438M423 462H438M423 560H438M423 660H438M423 757H438M258 660v15M438 660v15M618 660v15M798 660v15M978 660v15"/>
<text x="420" y="279" text-anchor="end">20000</text><text x="420" y="376" text-anchor="end">15000</text><text x="420" y="476" text-anchor="end">10000</text><text x="420" y="574" text-anchor="end">5000</text><text x="420" y="771" text-anchor="end">-5000</text>
<text x="258" y="712" text-anchor="middle">-5000</text><text x="618" y="712" text-anchor="middle">5000</text><text x="798" y="712" text-anchor="middle">10000</text><text x="978" y="712" text-anchor="middle">15000</text>
<text class="ti" x="620" y="860">Biotinyl-AT 02 (2 µg/mL)</text>
<text class="ti" transform="translate(168,510) rotate(-90)">Biotinyl-p5+14 (2 µg/mL)</text>
<path class="l" d="M425 600L810 330"/>
<circle cx="808" cy="332" r="10"/><circle cx="697" cy="335" r="10"/><circle cx="662" cy="440" r="10"/><circle cx="640" cy="432" r="10"/><circle cx="628" cy="423" r="10"/><circle cx="627" cy="438" r="10"/><circle cx="623" cy="460" r="10"/><circle cx="605" cy="478" r="10"/><circle cx="585" cy="483" r="10"/><circle cx="573" cy="525" r="10"/><circle cx="570" cy="553" r="10"/><circle cx="555" cy="550" r="10"/><circle cx="545" cy="550" r="10"/><circle cx="503" cy="522" r="10"/><circle cx="518" cy="598" r="10"/><circle cx="463" cy="622" r="10"/><circle cx="428" cy="612" r="10"/><circle cx="430" cy="605" r="10"/><circle cx="418" cy="625" r="10"/><circle cx="413" cy="645" r="10"/><circle cx="405" cy="660" r="10"/><circle cx="398" cy="635" r="10"/><circle cx="385" cy="652" r="10"/><circle cx="370" cy="655" r="10"/><circle cx="355" cy="655" r="10"/><circle cx="345" cy="660" r="10"/><circle cx="335" cy="665" r="10"/><circle cx="340" cy="620" r="10"/><circle cx="335" cy="640" r="10"/><circle cx="335" cy="672" r="10"/><circle cx="345" cy="672" r="10"/><circle cx="350" cy="620" r="10"/><circle cx="330" cy="655" r="10"/>
</g>

<!-- E -->
<g class="sc" transform="translate(1660,810) scale(0.3333)">
<path class="a" d="M355 277V773M258 650H995M340 277H355M340 403H355M340 527H355M340 650H355M340 773H355M355 650v15M483 650v15M612 650v15M740 650v15M868 650v15M995 650v15"/>
<text x="340" y="291" text-anchor="end">30000</text><text x="340" y="417" text-anchor="end">20000</text><text x="340" y="541" text-anchor="end">10000</text><text x="340" y="787" text-anchor="end">-10000</text>
<text text-anchor="end" transform="translate(493,702) rotate(-45)">2500</text>
<text text-anchor="end" transform="translate(622,702) rotate(-45)">5000</text>
<text text-anchor="end" transform="translate(750,702) rotate(-45)">7500</text>
<text text-anchor="end" transform="translate(878,702) rotate(-45)">10000</text>
<text text-anchor="end" transform="translate(1005,702) rotate(-45)">12500</text>
<text class="ti" x="620" y="895">Biotinyl-AT 02 (2 µg/mL)</text>
<text class="ti" transform="translate(166,560) rotate(-90)">Biotinyl-p5+14 (2 µg/mL)</text>
<path class="l" d="M310 645L815 315"/>
<circle cx="815" cy="310" r="10"/><circle cx="765" cy="353" r="10"/><circle cx="765" cy="408" r="10"/><circle cx="700" cy="375" r="10"/><circle cx="680" cy="428" r="10"/><circle cx="575" cy="375" r="10"/><circle cx="600" cy="492" r="10"/><circle cx="582" cy="540" r="10"/><circle cx="500" cy="428" r="10"/><circle cx="483" cy="440" r="10"/><circle cx="502" cy="567" r="10"/><circle cx="430" cy="537" r="10"/><circle cx="390" cy="537" r="10"/><circle cx="378" cy="562" r="10"/><circle cx="415" cy="590" r="10"/><circle cx="415" cy="615" r="10"/><circle cx="435" cy="648" r="10"/><circle cx="440" cy="652" r="10"/><circle cx="310" cy="660" r="10"/><circle cx="320" cy="660" r="10"/><circle cx="330" cy="658" r="10"/>
</g>
</svg>
</body></html>
